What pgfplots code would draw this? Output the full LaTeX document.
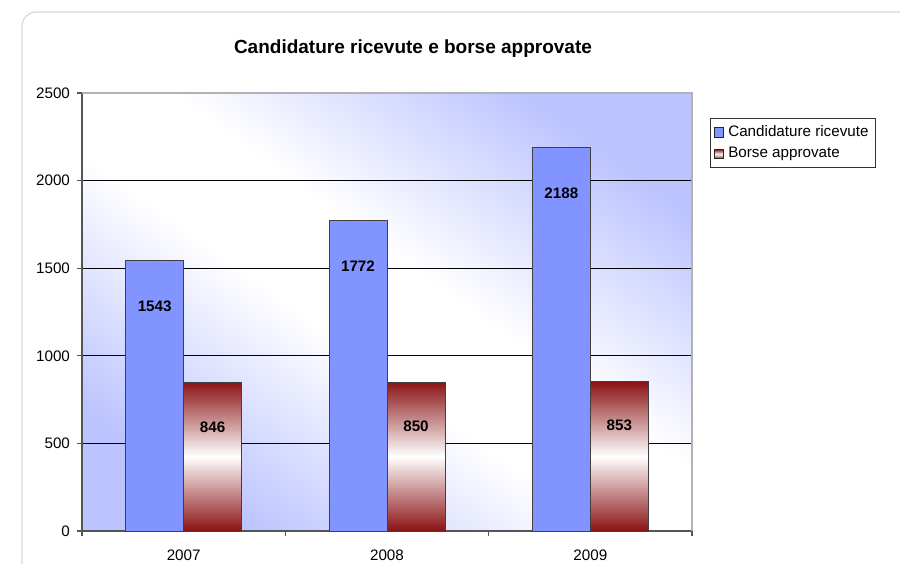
\documentclass[border=0pt]{standalone}
\usepackage{fontspec}
\setmainfont{Liberation Sans}
\usepackage{pgfplots}
\pgfplotsset{compat=1.18}
\definecolor{lav}{RGB}{188,196,255}
\definecolor{barblue}{RGB}{130,148,255}
\definecolor{darkred}{RGB}{138,18,20}
\definecolor{axgray}{RGB}{85,85,85}
\definecolor{framegray}{RGB}{215,215,215}
\pgfdeclarehorizontalshading{bgshade}{100bp}{color(0bp)=(lav); color(25bp)=(lav); color(45bp)=(white); color(55bp)=(white); color(75bp)=(lav); color(100bp)=(lav)}
\begin{document}
\begin{tikzpicture}[x=1pt,y=1pt]
\useasboundingbox (0,0) rectangle (450,281.5);
\begin{scope}
\clip (0,0) rectangle (450,281.5);
\draw[framegray, line width=0.6pt, rounded corners=7pt] (11,275.5) rectangle (480,-30);
\end{scope}
\node[font=\bfseries\fontsize{9.5}{11}\selectfont] at (206.5,257) {Candidature ricevute e borse approvate};
\begin{axis}[
  at={(41pt,16pt)}, anchor=south west, scale only axis,
  width=305pt, height=219pt,
  xmin=-0.5, xmax=2.5, ymin=0, ymax=2500,
  ytick={0,500,...,2500},
  xtick={-0.5,0.5,1.5,2.5}, xticklabels={},
  extra x ticks={0,1,2}, extra x tick labels={2007,2008,2009},
  extra x tick style={major tick length=0pt, xticklabel style={yshift=-6pt}},
  axis x line*=bottom, axis y line*=left,
  axis line style={axgray, line width=0.8pt},
  tick style={axgray, line width=0.6pt},
  major tick length=2.5pt,
  tick align=outside,
  ymajorgrids, grid style={black, line width=0.5pt},
  ticklabel style={font=\fontsize{7.6}{9}\selectfont},
  /pgf/number format/assume math mode=true,
  /pgf/number format/1000 sep={},
  axis background/.style={shading=bgshade, shading angle=54},
  after end axis/.code={\draw[black!30, line width=0.7pt] (rel axis cs:0,1) -- (rel axis cs:1,1) -- (rel axis cs:1,0);},
  legend style={at={(1.03,0.943)}, anchor=north west, draw=black!80,
    font=\fontsize{7.6}{9}\selectfont, inner sep=1.5pt, row sep=0pt},
  legend cell align=left,
  legend image code/.code={\draw[#1,draw=black!85, line width=0.5pt] (0pt,-2.4pt) rectangle (4.8pt,2.4pt);},
]
\addplot[ybar, bar width=29pt, bar shift=-14.5pt, fill=barblue, draw=black!75, line width=0.5pt,
  nodes near coords,
  every node near coord/.append style={anchor=center, xshift=-14.5pt, yshift=-23pt, black, font=\bfseries\fontsize{7.6}{9}\selectfont}]
  coordinates {(0,1543) (1,1772) (2,2188)};
\addplot[ybar, bar width=29pt, bar shift=14.5pt, draw=black!75, line width=0.5pt,
  top color=darkred, bottom color=darkred, middle color=white,
  nodes near coords,
  every node near coord/.append style={anchor=center, xshift=14.5pt, yshift=-22pt, black, font=\bfseries\fontsize{7.6}{9}\selectfont}]
  coordinates {(0,846) (1,850) (2,853)};
\legend{Candidature ricevute, Borse approvate}
\end{axis}
\end{tikzpicture}
\end{document}
